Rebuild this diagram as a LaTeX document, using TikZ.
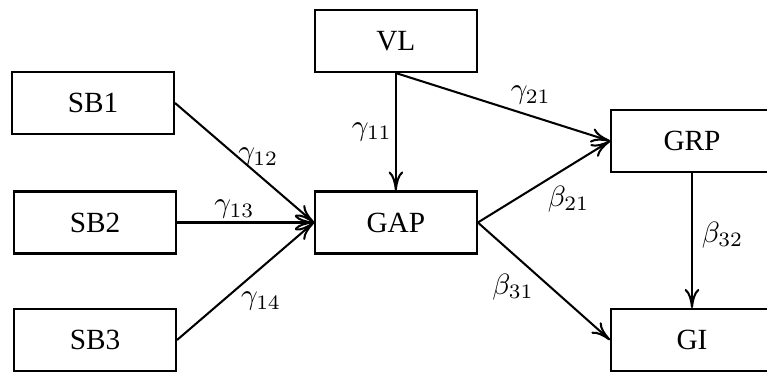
\documentclass[tikz,border=0pt]{standalone}
\usepackage{amsmath}
\usepackage{fontspec}
\setmainfont{Liberation Serif}
\usetikzlibrary{arrows.meta}

\tikzset{
	var/.style={draw, line width=0.7pt, minimum width=1.944cm, minimum height=0.744cm},
	effect/.style={->, line width=0.7pt},
	coef/.style={inner sep=1pt}
}

\begin{document}
\begin{tikzpicture}[>={To[length=6.5pt,width=5pt]}]
		\useasboundingbox (0,0) rectangle (9.204,4.452);
		\node[var] (sbone) at (1.116,3.216) {SB1};
		\node[var] (sbtwo) at (1.14,1.782) {SB2};
		\node[var] (sbthree) at (1.14,0.372) {SB3};
		\node[var] (vl) at (4.75,3.96) {VL};
		\node[var] (gap) at (4.75,1.782) {GAP};
		\node[var] (grp) at (8.304,2.76) {GRP};
		\node[var] (gi) at (8.304,0.372) {GI};
		\draw[effect] (vl.south) -- (gap.north)
			node[coef, pos=0.5, anchor=east] {$\gamma_{11}$};
		\draw[effect] (sbone.east) -- (gap.west)
			node[coef, pos=0.6, anchor=south, inner sep=2.5pt] {$\gamma_{12}$};
		\draw[effect] (sbtwo.east) -- (gap.west)
			node[coef, pos=0.42, anchor=south] {$\gamma_{13}$};
		\draw[effect] (sbthree.east) -- (gap.west)
			node[coef, pos=0.44, anchor=north west] {$\gamma_{14}$};
		\draw[effect] (vl.south) -- (grp.west)
			node[coef, pos=0.63, anchor=south, inner sep=3.5pt] {$\gamma_{21}$};
		\draw[effect] (gap.east) -- (grp.west)
			node[coef, pos=0.5, anchor=north west] {$\beta_{21}$};
		\draw[effect] (gap.east) -- (gi.west)
			node[coef, pos=0.43, anchor=north east, inner sep=0pt] {$\beta_{31}$};
		\draw[effect] (grp.south) -- (gi.north)
			node[coef, pos=0.46, anchor=west, inner sep=3pt] {$\beta_{32}$};
	\end{tikzpicture}
\end{document}
